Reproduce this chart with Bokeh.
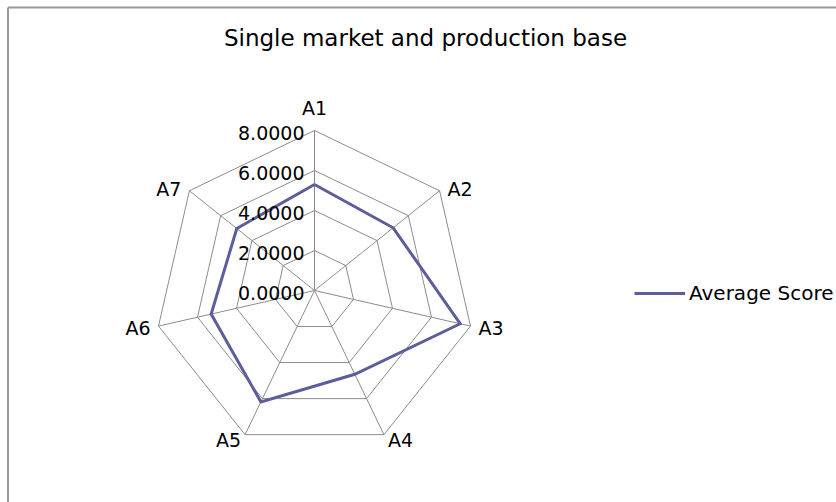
import numpy as np
from bokeh.plotting import figure
from bokeh.models import Range1d, Legend, LegendItem, ColumnDataSource
from bokeh.core.properties import value
from bokeh.embed import file_html
from bokeh.resources import INLINE

# Radar chart data
categories = ["A1", "A2", "A3", "A4", "A5", "A6", "A7"]
average_score = [5.3, 5.03, 7.47, 4.65, 6.18, 5.3, 4.97]
tick_values = [0.0, 2.0, 4.0, 6.0, 8.0]
tick_labels = ["0.0000", "2.0000", "4.0000", "6.0000", "8.0000"]
series_name = "Average Score"
title_text = "Single market and production base"

# Layout constants (pixels)
W, H = 836, 502
CX, CY = 314, 290          # radar centre on the canvas
PX_PER_UNIT = 20.0         # 8.0 units -> 160 px
FONT = "DejaVu Sans"
GRID_COLOR = "#8c8c8c"
LINE_COLOR = "#5d5d9c"

p = figure(width=W, height=H, output_backend="svg", toolbar_location=None,
           x_range=Range1d(-CX / PX_PER_UNIT, (W - CX) / PX_PER_UNIT),
           y_range=Range1d(-(H - CY) / PX_PER_UNIT, CY / PX_PER_UNIT),
           min_border=0, min_border_left=0, min_border_right=0,
           min_border_top=0, min_border_bottom=0)
p.axis.visible = False
p.grid.visible = False
p.outline_line_color = None
p.background_fill_color = "white"
p.border_fill_color = "white"

n = len(categories)
angles = np.pi / 2 - 2 * np.pi * np.arange(n) / n   # clockwise from the top


def to_xy(radii):
    r = np.asarray(radii, dtype=float)
    return r * np.cos(angles), r * np.sin(angles)


# chart-area frame (top and left edges visible)
def px_x(px):
    return (px - CX) / PX_PER_UNIT


def px_y(py):
    return (CY - py) / PX_PER_UNIT


p.segment(x0=[px_x(7.5), px_x(7.5)], y0=[px_y(7), px_y(7)],
          x1=[px_x(W + 10), px_x(7.5)], y1=[px_y(7), px_y(H + 10)],
          line_color="#9a9a9a", line_width=2)

# gridline polygons
rmax = tick_values[-1]
for t in tick_values[1:]:
    gx, gy = to_xy([t] * n)
    p.line(list(gx) + [gx[0]], list(gy) + [gy[0]], line_color=GRID_COLOR, line_width=1)

# spokes
sx, sy = to_xy([rmax] * n)
p.segment(x0=[0] * n, y0=[0] * n, x1=list(sx), y1=list(sy), line_color=GRID_COLOR, line_width=1)

# data series
dx, dy = to_xy(average_score)
series = p.line(list(dx) + [dx[0]], list(dy) + [dy[0]], line_color=LINE_COLOR, line_width=3,
                line_join="miter")

# value labels along the first spoke
p.text(x=[0] * len(tick_values), y=tick_values, text=tick_labels,
       text_font=value(FONT), text_font_size="19px", text_color="black",
       text_align="right", text_baseline="middle", x_offset=-10, y_offset=2)

# category labels around the outside
lx, ly = to_xy([rmax] * n)
aligns, xoffs, yoffs, bases = [], [], [], []
for a in angles:
    c, s = np.cos(a), np.sin(a)
    if abs(c) < 1e-6:
        aligns.append("center"); xoffs.append(0); yoffs.append(-12 if s > 0 else 12)
        bases.append("bottom" if s > 0 else "top")
    elif s < -0.8:
        aligns.append("left" if c > 0 else "right"); xoffs.append(4 if c > 0 else -4)
        yoffs.append(5); bases.append("middle")
    else:
        aligns.append("left" if c > 0 else "right"); xoffs.append(8 if c > 0 else -8)
        yoffs.append(-2 if s > 0 else 2); bases.append("middle")
src = ColumnDataSource(dict(x=lx, y=ly, text=categories, align=aligns,
                            xo=xoffs, yo=yoffs, base=bases))
p.text(x="x", y="y", text="text", source=src, text_font=value(FONT), text_font_size="19px",
       text_color="black", text_align="align", text_baseline="base",
       x_offset="xo", y_offset="yo")

# title
p.text(x=[px_x(425)], y=[px_y(37)], text=[title_text], text_font=value(FONT),
       text_font_size="23px", text_color="black", text_align="center", text_baseline="middle")

legend = Legend(items=[LegendItem(label=series_name, renderers=[series])],
                location=(634, 197), orientation="vertical",
                border_line_color=None, background_fill_alpha=0,
                padding=0, margin=0, spacing=0,
                glyph_width=51, glyph_height=20, label_height=20, label_standoff=4,
                label_text_font=FONT, label_text_font_size="20px", label_text_color="black")
p.add_layout(legend, "center")

open("out.html", "w").write(file_html(p, INLINE))
